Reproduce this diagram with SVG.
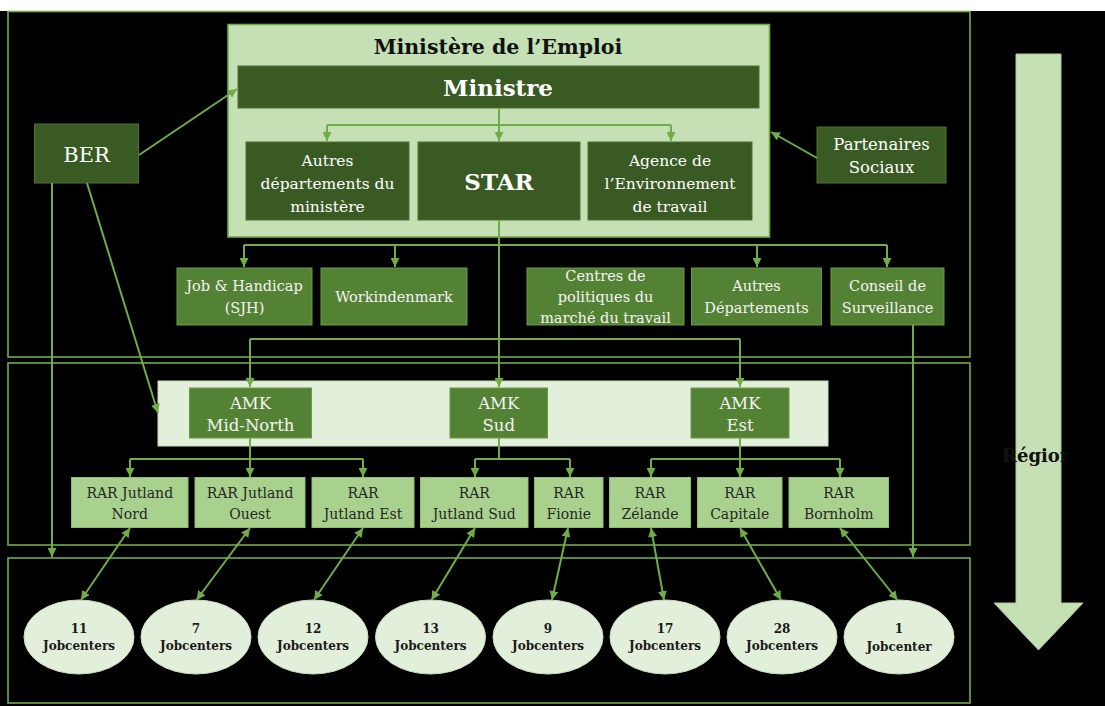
<svg xmlns="http://www.w3.org/2000/svg" width="1105" height="706" viewBox="0 0 1105 706">
<defs>
<style>
.frame{fill:none;stroke:#70ad47;stroke-width:1.6}
.dark{fill:#3a5a24;stroke:#4e7332;stroke-width:1}
.mid{fill:#548235;stroke:#6a9a45;stroke-width:1}
.rar{fill:#a9d18e;stroke:#8fbd70;stroke-width:1}
.ell{fill:#e2efda;stroke:#c9dcbc;stroke-width:1}
.conn{fill:none;stroke:#70ad47;stroke-width:2}
text{font-family:"DejaVu Serif","Liberation Serif",serif;text-anchor:middle}
.tw{fill:#ffffff;font-size:15.5px}
.tm{fill:#f4f4f4;font-size:14.5px}
.tr{fill:#262626;font-size:14px}
.tj{fill:#1a1a1a;font-size:12px;font-weight:bold}
</style>
<marker id="ah" viewBox="0 0 10 10" refX="10" refY="5" markerWidth="9" markerHeight="9" markerUnits="userSpaceOnUse" orient="auto-start-reverse">
<path d="M0,0 L10,5 L0,10 z" fill="#70ad47"/>
</marker>
<clipPath id="regclip">
<rect x="990" y="430" width="78" height="50"/>
</clipPath>
</defs>
<rect x="0" y="0" width="1105" height="706" fill="#000000"/>
<rect x="0" y="0" width="1105" height="11" fill="#ffffff"/>

<g id="frames">
<rect class="frame" x="8" y="11.5" width="962" height="345.5"/>
<rect class="frame" x="8" y="363" width="962" height="182"/>
<rect class="frame" x="8" y="558" width="962" height="145"/>
</g>

<g id="region-arrow">
<path d="M1016,54 H1061 V603 H1083 L1038.5,650 L994,603 H1016 Z" fill="#c5e0b4" stroke="#a9c99a" stroke-width="1"/>
<text x="1002" y="462" clip-path="url(#regclip)" style="font-size:18px;font-weight:bold;fill:#111111;text-anchor:start">Région</text>
</g>

<g id="ministere">
<rect x="228" y="24.5" width="541.5" height="212.5" fill="#c5e0b4" stroke="#70ad47" stroke-width="1.6"/>
<text x="498" y="54" style="font-size:20.5px;font-weight:bold;fill:#111111">Ministère de l’Emploi</text>
</g>
<g id="ministre">
<rect class="dark" x="238" y="66" width="521" height="42"/>
<text x="498" y="96" style="fill:#ffffff;font-size:23px;font-weight:bold">Ministre</text>
</g>
<g id="autres-dep-ministere">
<rect class="dark" x="246" y="142" width="163" height="78"/>
<text class="tw" x="327.5" y="166">Autres</text>
<text class="tw" x="327.5" y="189">départements du</text>
<text class="tw" x="327.5" y="212">ministère</text>
</g>
<g id="star">
<rect class="dark" x="418" y="142" width="162" height="78"/>
<text x="499" y="190" style="fill:#ffffff;font-size:23px;font-weight:bold">STAR</text>
</g>
<g id="agence">
<rect class="dark" x="588" y="142" width="164" height="78"/>
<text class="tw" x="670" y="166">Agence de</text>
<text class="tw" x="670" y="189">l’Environnement</text>
<text class="tw" x="670" y="212">de travail</text>
</g>
<g id="ber">
<rect class="dark" x="34.5" y="124" width="104" height="59"/>
<text x="86.5" y="162" style="fill:#ffffff;font-size:21px">BER</text>
</g>
<g id="partenaires">
<rect class="dark" x="817" y="127" width="129" height="56"/>
<text x="881.5" y="149.5" style="fill:#ffffff;font-size:16.5px">Partenaires</text>
<text x="881.5" y="173" style="fill:#ffffff;font-size:16.5px">Sociaux</text>
</g>

<g id="sjh">
<rect class="mid" x="177" y="268" width="135" height="57"/>
<text class="tm" x="244.5" y="291">Job &amp; Handicap</text>
<text class="tm" x="244.5" y="313">(SJH)</text>
</g>
<g id="workindenmark">
<rect class="mid" x="321" y="268" width="146" height="57"/>
<text class="tm" x="394" y="302">Workindenmark</text>
</g>
<g id="centres">
<rect class="mid" x="527" y="268" width="157" height="57"/>
<text class="tm" x="605.5" y="281">Centres de</text>
<text class="tm" x="605.5" y="302">politiques du</text>
<text class="tm" x="605.5" y="323">marché du travail</text>
</g>
<g id="autres-departements">
<rect class="mid" x="691.5" y="268" width="130" height="57"/>
<text class="tm" x="756.5" y="291">Autres</text>
<text class="tm" x="756.5" y="313">Départements</text>
</g>
<g id="conseil">
<rect class="mid" x="831" y="268" width="113" height="57"/>
<text class="tm" x="887.5" y="291">Conseil de</text>
<text class="tm" x="887.5" y="313">Surveillance</text>
</g>

<g id="amk-band">
<rect x="158" y="381" width="670" height="65" fill="#e2efda" stroke="#c9dcbc" stroke-width="1"/>
</g>
<g id="amk-mid-north">
<rect class="mid" x="189.5" y="388" width="122" height="50"/>
<text x="250.5" y="409" style="fill:#f4f4f4;font-size:16.5px">AMK</text>
<text x="250.5" y="431" style="fill:#f4f4f4;font-size:16.5px">Mid-North</text>
</g>
<g id="amk-sud">
<rect class="mid" x="450" y="388" width="97.5" height="50"/>
<text x="498.75" y="409" style="fill:#f4f4f4;font-size:16.5px">AMK</text>
<text x="498.75" y="431" style="fill:#f4f4f4;font-size:16.5px">Sud</text>
</g>
<g id="amk-est">
<rect class="mid" x="691" y="388" width="98" height="50"/>
<text x="740" y="409" style="fill:#f4f4f4;font-size:16.5px">AMK</text>
<text x="740" y="431" style="fill:#f4f4f4;font-size:16.5px">Est</text>
</g>

<g id="rar-jutland-nord">
<rect class="rar" x="71.5" y="477.5" width="116.5" height="50"/>
<text class="tr" x="129.75" y="498">RAR Jutland</text>
<text class="tr" x="129.75" y="519">Nord</text>
</g>
<g id="rar-jutland-ouest">
<rect class="rar" x="195" y="477.5" width="110" height="50"/>
<text class="tr" x="250" y="498">RAR Jutland</text>
<text class="tr" x="250" y="519">Ouest</text>
</g>
<g id="rar-jutland-est">
<rect class="rar" x="312" y="477.5" width="102" height="50"/>
<text class="tr" x="363" y="498">RAR</text>
<text class="tr" x="363" y="519">Jutland Est</text>
</g>
<g id="rar-jutland-sud">
<rect class="rar" x="420.5" y="477.5" width="107.5" height="50"/>
<text class="tr" x="474.25" y="498">RAR</text>
<text class="tr" x="474.25" y="519">Jutland Sud</text>
</g>
<g id="rar-fionie">
<rect class="rar" x="534.5" y="477.5" width="68.5" height="50"/>
<text class="tr" x="568.75" y="498">RAR</text>
<text class="tr" x="568.75" y="519">Fionie</text>
</g>
<g id="rar-zelande">
<rect class="rar" x="609.5" y="477.5" width="81" height="50"/>
<text class="tr" x="650" y="498">RAR</text>
<text class="tr" x="650" y="519">Zélande</text>
</g>
<g id="rar-capitale">
<rect class="rar" x="697.5" y="477.5" width="84.5" height="50"/>
<text class="tr" x="739.75" y="498">RAR</text>
<text class="tr" x="739.75" y="519">Capitale</text>
</g>
<g id="rar-bornholm">
<rect class="rar" x="789" y="477.5" width="99.5" height="50"/>
<text class="tr" x="838.75" y="498">RAR</text>
<text class="tr" x="838.75" y="519">Bornholm</text>
</g>

<g id="jc-11">
<ellipse class="ell" cx="79" cy="637" rx="55" ry="37"/>
<text class="tj" x="79" y="633">11</text>
<text class="tj" x="79" y="650">Jobcenters</text>
</g>
<g id="jc-7">
<ellipse class="ell" cx="196" cy="637" rx="55" ry="37"/>
<text class="tj" x="196" y="633">7</text>
<text class="tj" x="196" y="650">Jobcenters</text>
</g>
<g id="jc-12">
<ellipse class="ell" cx="313" cy="637" rx="55" ry="37"/>
<text class="tj" x="313" y="633">12</text>
<text class="tj" x="313" y="650">Jobcenters</text>
</g>
<g id="jc-13">
<ellipse class="ell" cx="430.5" cy="637" rx="55" ry="37"/>
<text class="tj" x="430.5" y="633">13</text>
<text class="tj" x="430.5" y="650">Jobcenters</text>
</g>
<g id="jc-9">
<ellipse class="ell" cx="548" cy="637" rx="55" ry="37"/>
<text class="tj" x="548" y="633">9</text>
<text class="tj" x="548" y="650">Jobcenters</text>
</g>
<g id="jc-17">
<ellipse class="ell" cx="665" cy="637" rx="55" ry="37"/>
<text class="tj" x="665" y="633">17</text>
<text class="tj" x="665" y="650">Jobcenters</text>
</g>
<g id="jc-28">
<ellipse class="ell" cx="782" cy="637" rx="55" ry="37"/>
<text class="tj" x="782" y="633">28</text>
<text class="tj" x="782" y="650">Jobcenters</text>
</g>
<g id="jc-1">
<ellipse class="ell" cx="899" cy="637" rx="55" ry="37"/>
<text class="tj" x="899" y="633">1</text>
<text class="tj" x="899" y="651">Jobcenter</text>
</g>

<g id="connectors">
<path class="conn" d="M327,125 H671"/>
<path class="conn" d="M499,108 V141" marker-end="url(#ah)"/>
<path class="conn" d="M327,125 V141" marker-end="url(#ah)"/>
<path class="conn" d="M671,125 V141" marker-end="url(#ah)"/>
<path class="conn" d="M139,155 L237,89" marker-end="url(#ah)"/>
<path class="conn" d="M817,158 L771,132" marker-end="url(#ah)"/>
<path class="conn" d="M244,245 H887"/>
<path class="conn" d="M244,245 V267" marker-end="url(#ah)"/>
<path class="conn" d="M395,245 V267" marker-end="url(#ah)"/>
<path class="conn" d="M757,245 V267" marker-end="url(#ah)"/>
<path class="conn" d="M887,245 V267" marker-end="url(#ah)"/>
<path class="conn" d="M499,220 V387" marker-end="url(#ah)"/>
<path class="conn" d="M250,339 H740"/>
<path class="conn" d="M250,339 V387" marker-end="url(#ah)"/>
<path class="conn" d="M740,339 V387" marker-end="url(#ah)"/>
<path class="conn" d="M87,183 L158,413" marker-end="url(#ah)"/>
<path class="conn" d="M52,183 V557" marker-end="url(#ah)"/>
<path class="conn" d="M913,325 V557" marker-end="url(#ah)"/>
<path class="conn" d="M250,438 V459 M130,459 H363"/>
<path class="conn" d="M130,459 V477" marker-end="url(#ah)"/>
<path class="conn" d="M250,459 V477" marker-end="url(#ah)"/>
<path class="conn" d="M363,459 V477" marker-end="url(#ah)"/>
<path class="conn" d="M499,438 V459 M475,459 H570"/>
<path class="conn" d="M475,459 V477" marker-end="url(#ah)"/>
<path class="conn" d="M570,459 V477" marker-end="url(#ah)"/>
<path class="conn" d="M740,438 V459 M651,459 H840"/>
<path class="conn" d="M651,459 V477" marker-end="url(#ah)"/>
<path class="conn" d="M740,459 V477" marker-end="url(#ah)"/>
<path class="conn" d="M840,459 V477" marker-end="url(#ah)"/>
<path class="conn" d="M130,528 L81,600" marker-start="url(#ah)" marker-end="url(#ah)"/>
<path class="conn" d="M250,528 L196.5,600" marker-start="url(#ah)" marker-end="url(#ah)"/>
<path class="conn" d="M363,528 L314,600" marker-start="url(#ah)" marker-end="url(#ah)"/>
<path class="conn" d="M475,528 L431.5,600" marker-start="url(#ah)" marker-end="url(#ah)"/>
<path class="conn" d="M568,528 L552,600" marker-start="url(#ah)" marker-end="url(#ah)"/>
<path class="conn" d="M651,528 L664,600" marker-start="url(#ah)" marker-end="url(#ah)"/>
<path class="conn" d="M740,528 L781,600" marker-start="url(#ah)" marker-end="url(#ah)"/>
<path class="conn" d="M840,528 L897.5,600" marker-start="url(#ah)" marker-end="url(#ah)"/>
</g>
</svg>
